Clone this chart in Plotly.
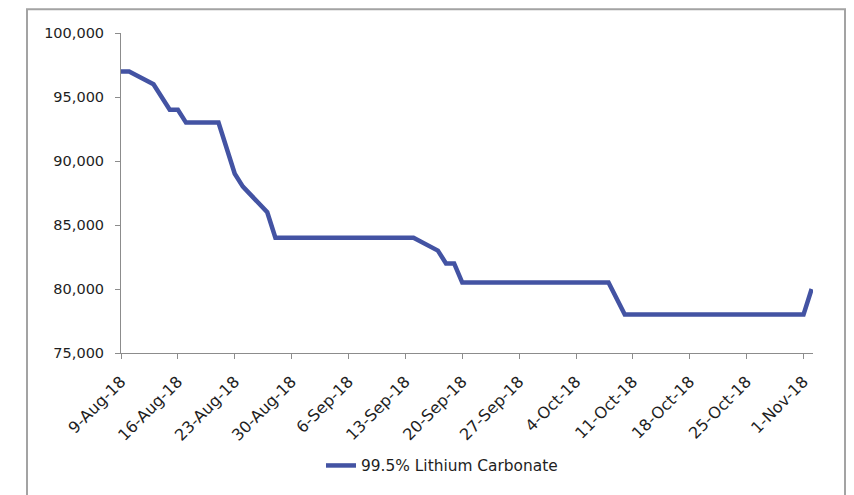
import plotly.graph_objects as go

# Daily spot price, 99.5% lithium carbonate (CNY/t) — dates where the price level changes
dates = [
    "2018-08-09", "2018-08-10", "2018-08-13", "2018-08-14", "2018-08-15",
    "2018-08-16", "2018-08-17", "2018-08-21", "2018-08-22", "2018-08-23",
    "2018-08-24", "2018-08-27", "2018-08-28", "2018-09-14", "2018-09-17",
    "2018-09-18", "2018-09-19", "2018-09-20", "2018-10-08", "2018-10-10",
    "2018-11-01", "2018-11-02",
]
prices = [
    97000, 97000, 96000, 95000, 94000,
    94000, 93000, 93000, 91000, 89000,
    88000, 86000, 84000, 84000, 83000,
    82000, 82000, 80500, 80500, 78000,
    78000, 80000,
]

series_name = "99.5% Lithium Carbonate"

tick_dates = [
    "2018-08-09", "2018-08-16", "2018-08-23", "2018-08-30", "2018-09-06",
    "2018-09-13", "2018-09-20", "2018-09-27", "2018-10-04", "2018-10-11",
    "2018-10-18", "2018-10-25", "2018-11-01",
]
tick_labels = [
    "9-Aug-18", "16-Aug-18", "23-Aug-18", "30-Aug-18", "6-Sep-18",
    "13-Sep-18", "20-Sep-18", "27-Sep-18", "4-Oct-18", "11-Oct-18",
    "18-Oct-18", "25-Oct-18", "1-Nov-18",
]
y_ticks = [75000, 80000, 85000, 90000, 95000, 100000]

LINE = "#4353A3"
AXIS = "#8C8C8C"
TEXT = "#1E1E1E"
FONT = "DejaVu Sans"

fig = go.Figure()
fig.add_trace(go.Scatter(
    x=dates, y=prices, mode="lines", name=series_name,
    line=dict(color=LINE, width=4.5),
))

# plot area: x 121..813 px, y 33..356 px
L, R, T, B = 121, 41, 33, 139
W, H = 854, 495
pw, ph = W - L - R, H - T - B

def px_x(p):
    return (p - L) / pw

def px_y(p):
    return (H - B - p) / ph

fig.update_layout(
    width=W, height=H,
    margin=dict(l=L, r=R, t=T, b=B),
    paper_bgcolor="white", plot_bgcolor="white",
    font=dict(family=FONT, color=TEXT, size=14.5),
    showlegend=True,
    legend=dict(
        orientation="h", x=px_x(321), xanchor="left",
        y=px_y(470), yanchor="middle",
        font=dict(size=15.4, family=FONT, color=TEXT),
        bgcolor="rgba(0,0,0,0)",
    ),
    xaxis=dict(
        type="date",
        range=["2018-08-09", "2018-11-02 04:00"],
        tickvals=tick_dates, ticktext=tick_labels, tickangle=-45,
        showgrid=False, zeroline=False,
        showline=True, linecolor=AXIS, linewidth=1,
        ticks="outside", ticklen=5, tickcolor=AXIS, tickwidth=1,
        ticklabelstandoff=7,
        tickfont=dict(size=16, family=FONT, color=TEXT),
    ),
    yaxis=dict(
        range=[75000, 100000],
        tickvals=y_ticks, tickformat=",d",
        showgrid=False, zeroline=False,
        showline=True, linecolor=AXIS, linewidth=1,
        ticks="outside", ticklen=5, tickcolor=AXIS, tickwidth=1,
        ticklabelstandoff=8,
        tickfont=dict(size=14.5, family=FONT, color=TEXT),
    ),
    shapes=[
        # outer chart frame (runs past the bottom edge)
        dict(type="rect", xref="paper", yref="paper",
             x0=px_x(27), x1=px_x(845), y0=px_y(505), y1=px_y(9),
             line=dict(color="#A3A3A3", width=2), fillcolor="rgba(0,0,0,0)",
             layer="below"),
    ],
)

fig.write_html("out.html")
